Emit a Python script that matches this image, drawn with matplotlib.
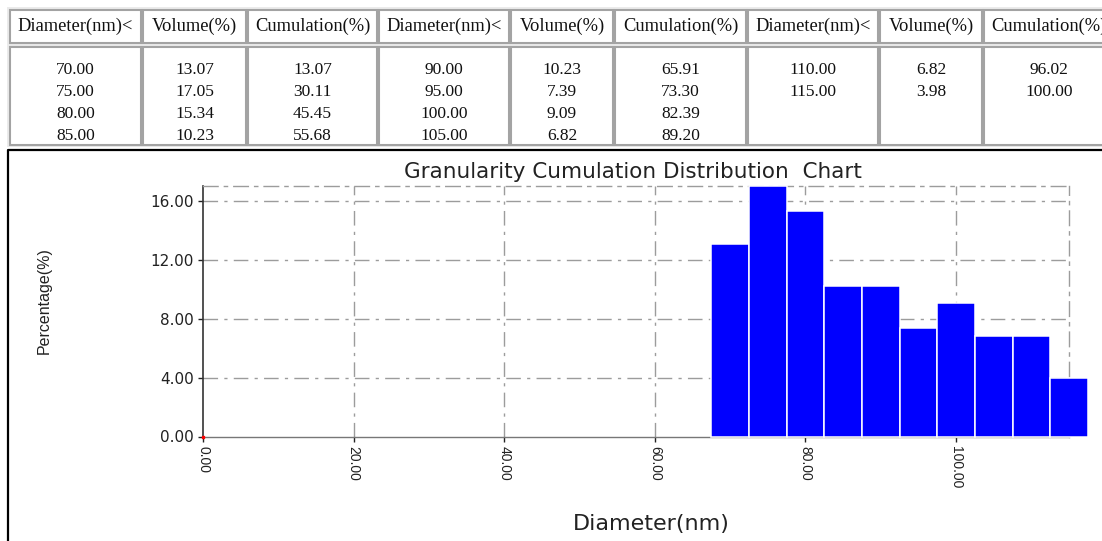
import matplotlib
matplotlib.use("Agg")
import matplotlib.pyplot as plt
from matplotlib.patches import Rectangle
from matplotlib.lines import Line2D

plt.rcParams["lines.scale_dashes"] = False

# ---- data ----
diameters = [70, 75, 80, 85, 90, 95, 100, 105, 110, 115]
volumes = [13.07, 17.05, 15.34, 10.23, 10.23, 7.39, 9.09, 6.82, 6.82, 3.98]
cumulations = [13.07, 30.11, 45.45, 55.68, 65.91, 73.30, 82.39, 89.20, 96.02, 100.00]
header_labels = ["Diameter(nm)<", "Volume(%)", "Cumulation(%)"]
x_ticks = [0, 20, 40, 60, 80, 100]
y_ticks = [0, 4, 8, 12, 16]
title = "Granularity Cumulation Distribution  Chart"
x_label = "Diameter(nm)"
y_label = "Percentage(%)"

W, H = 1102, 541
fig = plt.figure(figsize=(W / 100, H / 100), dpi=100)
fig.patch.set_facecolor("white")


def fx(x):
    return x / W


def fy(y):
    return 1 - y / H


# ---- table ----
col_edges = [9, 142, 247, 378, 510, 614, 747, 879, 983, 1115]
head_top, head_bot = 10, 43
data_top, data_bot = 47, 145

fig.add_artist(Rectangle((fx(7), fy(147)), fx(1110) - fx(7), fy(7) - fy(147),
                         transform=fig.transFigure, facecolor="#ebebeb",
                         edgecolor="none", zorder=0))
for i in range(9):
    x0, x1 = col_edges[i] + 1, col_edges[i + 1] - 1
    for (t, b) in [(head_top, head_bot), (data_top, data_bot)]:
        fig.add_artist(Rectangle((fx(x0), fy(b)), fx(x1) - fx(x0), fy(t) - fy(b),
                                 transform=fig.transFigure, facecolor="white",
                                 edgecolor="#a3a3a3", linewidth=1.5, zorder=1))
    xc = fx((col_edges[i] + col_edges[i + 1]) / 2)
    fig.text(xc, fy((head_top + head_bot) / 2), header_labels[i % 3],
             ha="center", va="center", family="Liberation Serif", fontsize=13.3,
             color="#111111", zorder=2)

row_y = [70, 92, 114, 136]
groups = [(0, 4), (4, 8), (8, 10)]
for g, (s, e) in enumerate(groups):
    for r, k in enumerate(range(s, e)):
        vals = [diameters[k], volumes[k], cumulations[k]]
        for c in range(3):
            ci = g * 3 + c
            xc = fx((col_edges[ci] + col_edges[ci + 1]) / 2)
            fig.text(xc, fy(row_y[r]), "%.2f" % vals[c], ha="center", va="center",
                     family="Liberation Serif", fontsize=12.5, color="#111111", zorder=2)

# ---- chart frame ----
fig.add_artist(Line2D([fx(8), fx(8), fx(1102)], [fy(541), fy(150), fy(150)],
                      transform=fig.transFigure, color="black", linewidth=1.6))

# ---- chart ----
ax_left, ax_right = 203, 1069
ax_top, ax_bot = 186, 436.5
ax = fig.add_axes([fx(ax_left), fy(ax_bot), fx(ax_right) - fx(ax_left), fy(ax_top) - fy(ax_bot)])
ax.set_facecolor("none")
ax.set_xlim(0, 115)
ax.set_ylim(0, 17.05)

dash = (0, (10.5, 4.5, 2.3, 4.5))
for yv in y_ticks[1:]:
    ax.axhline(yv, color="#9c9c9c", linewidth=1.0, linestyle=dash, zorder=1)
for xv in x_ticks[1:]:
    ax.axvline(xv, color="#9c9c9c", linewidth=1.0, linestyle=dash, zorder=1)

ax.bar(diameters, volumes, width=5, color="#0000ff", edgecolor="white",
       linewidth=1.1, zorder=3, clip_on=False)

for side in ["top", "right"]:
    ax.spines[side].set_color("#9c9c9c")
    ax.spines[side].set_linestyle(dash)
    ax.spines[side].set_linewidth(1.0)
ax.spines["left"].set_color("#333333")
ax.spines["left"].set_linewidth(1.2)
ax.spines["bottom"].set_color("#777777")
ax.spines["bottom"].set_linewidth(1.0)

ax.set_xticks(x_ticks)
ax.set_xticklabels(["%.2f" % v for v in x_ticks], rotation=270,
                   family="Liberation Sans", fontsize=10, color="#222222")
ax.set_yticks(y_ticks)
ax.set_yticklabels(["%.2f" % v for v in y_ticks], family="DejaVu Sans",
                   fontsize=11, color="#222222")
ax.tick_params(axis="both", direction="out", length=3.5, width=1.0, color="#222222")
ax.tick_params(axis="x", pad=3)
ax.tick_params(axis="y", pad=3)
ax.plot([0], [0], marker="s", color="red", markersize=1.5, clip_on=False, zorder=5)

fig.text(fx(633), fy(172), title, ha="center", va="center", family="DejaVu Sans",
         fontsize=15.5, color="#222222")
fig.text(fx(651), fy(524), x_label, ha="center", va="center", family="DejaVu Sans",
         fontsize=16, color="#222222")
fig.text(fx(44), fy(301), y_label, ha="center", va="center", rotation=90,
         family="Liberation Sans", fontsize=11.5, color="#222222")

fig.savefig("out.png", dpi=100)
